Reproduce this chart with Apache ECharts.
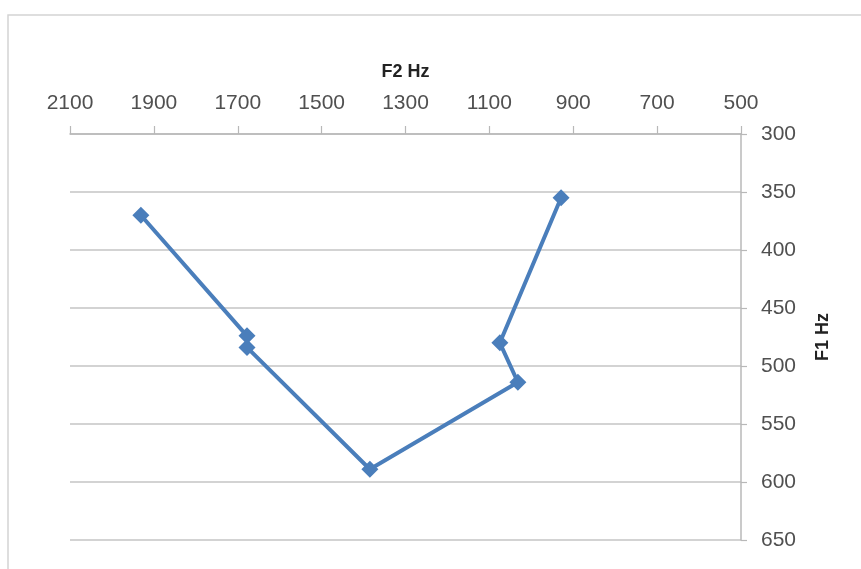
<!DOCTYPE html>
<html>
<head>
<meta charset="utf-8">
<script src="https://cdn.jsdelivr.net/npm/echarts@6/dist/echarts.min.js"></script>
<style>
html,body{margin:0;padding:0;background:#fff;}
#chart{width:861px;height:569px;}
</style>
</head>
<body>
<div id="chart"></div>
<script>
// F2 (Hz) on the top axis, F1 (Hz) on the right axis
const f2Values = [1931, 1678, 1678, 1385, 1032, 1075, 929];
const f1Values = [370, 474, 484, 589, 514, 480, 355];
const xTicks = { min: 500, max: 2100, interval: 200 };
const yTicks = { min: 300, max: 650, interval: 50 };
const xName = 'F2 Hz';
const yName = 'F1 Hz';

const points = f2Values.map((v, i) => [v, f1Values[i]]);
const labelFont = 'Liberation Sans';
const chart = echarts.init(document.getElementById('chart'));
chart.setOption({
  animation: false,
  backgroundColor: '#ffffff',
  graphic: [{
    type: 'rect',
    shape: { x: 8, y: 15, width: 900, height: 600 },
    style: { fill: 'none', stroke: '#d4d4d4', lineWidth: 1.5 },
    z: -10
  }],
  grid: { left: 70, right: 120, top: 134, bottom: 29, containLabel: false },
  xAxis: {
    type: 'value',
    position: 'top',
    inverse: true,
    min: xTicks.min, max: xTicks.max, interval: xTicks.interval,
    name: xName,
    nameLocation: 'middle',
    nameGap: 53,
    nameTextStyle: { fontFamily: labelFont, fontWeight: 'bold', fontSize: 18, color: '#222' },
    axisLine: { show: true, lineStyle: { color: '#b8b8b8', width: 1.5 } },
    axisTick: { show: true, inside: false, length: 8, lineStyle: { color: '#b8b8b8', width: 1.2 } },
    axisLabel: { margin: 20, fontFamily: labelFont, fontSize: 21, color: '#505050', formatter: v => String(v) },
    splitLine: { show: false }
  },
  yAxis: {
    type: 'value',
    position: 'right',
    inverse: true,
    min: yTicks.min, max: yTicks.max, interval: yTicks.interval,
    name: yName,
    nameLocation: 'middle',
    nameRotate: 90,
    nameGap: 73,
    nameTextStyle: { fontFamily: labelFont, fontWeight: 'bold', fontSize: 18, color: '#222' },
    axisLine: { show: true, lineStyle: { color: '#b8b8b8', width: 1.5 } },
    axisTick: { show: true, inside: false, length: 6, lineStyle: { color: '#b8b8b8', width: 1.2 } },
    axisLabel: { margin: 20, fontFamily: labelFont, fontSize: 21, color: '#505050', formatter: v => String(v) },
    splitLine: { show: true, lineStyle: { color: '#c4c4c4', width: 1.5 } }
  },
  series: [{
    type: 'line',
    data: points,
    symbol: 'diamond',
    symbolSize: 17,
    lineStyle: { color: '#4a7ebb', width: 4 },
    itemStyle: { color: '#4a7ebb' },
    z: 5
  }]
});
</script>
</body>
</html>
